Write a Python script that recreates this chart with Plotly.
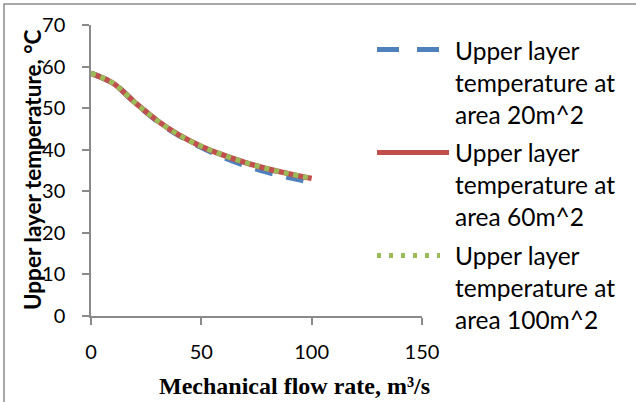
import plotly.graph_objects as go

# Data
flow_rate = [0, 10, 20, 30, 40, 50, 60, 70, 80, 90, 100]
temp_area_20 = [58.4, 56.0, 51.3, 46.9, 43.4, 40.6, 38.2, 36.2, 34.6, 33.3, 32.2]
temp_area_60 = [58.4, 56.0, 51.3, 47.0, 43.5, 40.8, 38.7, 36.9, 35.4, 34.2, 33.1]
temp_area_100 = [58.4, 56.0, 51.3, 47.0, 43.5, 40.8, 38.7, 36.9, 35.4, 34.2, 33.1]

series_names = [
    "Upper layer<br>temperature at<br>area 20m^2",
    "Upper layer<br>temperature at<br>area 60m^2",
    "Upper layer<br>temperature at<br>area 100m^2",
]
x_ticks = [0, 50, 100, 150]
y_ticks = [0, 10, 20, 30, 40, 50, 60, 70]

BLUE = "#4F81BD"
RED = "#C0504D"
GREEN = "#9BBB59"
AXIS = "#8a8a8a"
FONT = "Lato"

fig = go.Figure()
fig.add_trace(go.Scatter(x=flow_rate, y=temp_area_20, mode="lines", name=series_names[0],
                         line=dict(color=BLUE, width=5.5, dash="18px,14px", shape="spline", smoothing=1),
                         showlegend=False))
fig.add_trace(go.Scatter(x=flow_rate, y=temp_area_60, mode="lines", name=series_names[1],
                         line=dict(color=RED, width=5.5, shape="spline", smoothing=1),
                         showlegend=False))
fig.add_trace(go.Scatter(x=flow_rate, y=temp_area_100, mode="lines", name=series_names[2],
                         line=dict(color=GREEN, width=5, dash="dot", shape="spline", smoothing=1),
                         showlegend=False))

L, R, T, B = 91, 214, 25, 86
W, H = 636, 402
pw, ph = W - L - R, H - T - B


def px(x):
    return (x - L) / pw


def py(y):
    return (H - B - y) / ph


# custom legend
legend_specs = [
    (BLUE, "22px,18px", 49.5, 82.5, 440),
    (RED, "solid", 152.5, 184, 449),
    (GREEN, "4px,8px", 255.5, 287, 440),
]
shapes = []
annotations = []
for (col, dash, ly, ty, xend), name in zip(legend_specs, series_names):
    shapes.append(dict(type="line", xref="paper", yref="paper",
                       x0=px(377), x1=px(xend), y0=py(ly), y1=py(ly),
                       line=dict(color=col, width=5, dash=dash)))
    annotations.append(dict(xref="paper", yref="paper", x=px(453), y=py(ty),
                            xanchor="left", yanchor="middle", align="left",
                            text=name, showarrow=False,
                            font=dict(family=FONT, size=24.5, color="#000000")))

# outer border
shapes.append(dict(type="rect", xref="paper", yref="paper",
                   x0=px(4), y0=-2, x1=3, y1=py(4),
                   line=dict(color="#8c8c8c", width=1.5), fillcolor="rgba(0,0,0,0)", layer="below"))

# axis titles
annotations.append(dict(xref="paper", yref="paper", x=px(32), y=py(170),
                        xanchor="center", yanchor="middle", textangle=-90,
                        text="<b>Upper layer temperature, °C</b>", showarrow=False,
                        font=dict(family=FONT, size=22.5, color="#000000")))
annotations.append(dict(xref="paper", yref="paper", x=px(294), y=py(386),
                        xanchor="center", yanchor="middle",
                        text="<b>Mechanical flow rate, m³/s</b>", showarrow=False,
                        font=dict(family="Liberation Serif", size=24, color="#000000")))

fig.update_layout(
    width=W, height=H,
    margin=dict(l=L, r=R, t=T, b=B, autoexpand=False),
    paper_bgcolor="white", plot_bgcolor="white",
    showlegend=False,
    shapes=shapes, annotations=annotations,
    font=dict(family=FONT, size=20, color="#000000"),
)
fig.update_xaxes(range=[0, 150], tickvals=x_ticks, showgrid=False, zeroline=False,
                 showline=True, linecolor=AXIS, linewidth=1.5,
                 ticks="outside", ticklen=7, tickcolor=AXIS, tickwidth=1.5,
                 ticklabelstandoff=10, tickfont=dict(family=FONT, size=20, color="#000000"))
fig.update_yaxes(range=[0, 70], tickvals=y_ticks, showgrid=False, zeroline=False,
                 showline=True, linecolor=AXIS, linewidth=1.5,
                 ticks="outside", ticklen=7, tickcolor=AXIS, tickwidth=1.5,
                 ticklabelstandoff=13, tickfont=dict(family=FONT, size=20, color="#000000"))

fig.write_html("out.html", config={"displayModeBar": False},
               post_script="document.body.style.margin='0';document.body.style.overflow='hidden';")
